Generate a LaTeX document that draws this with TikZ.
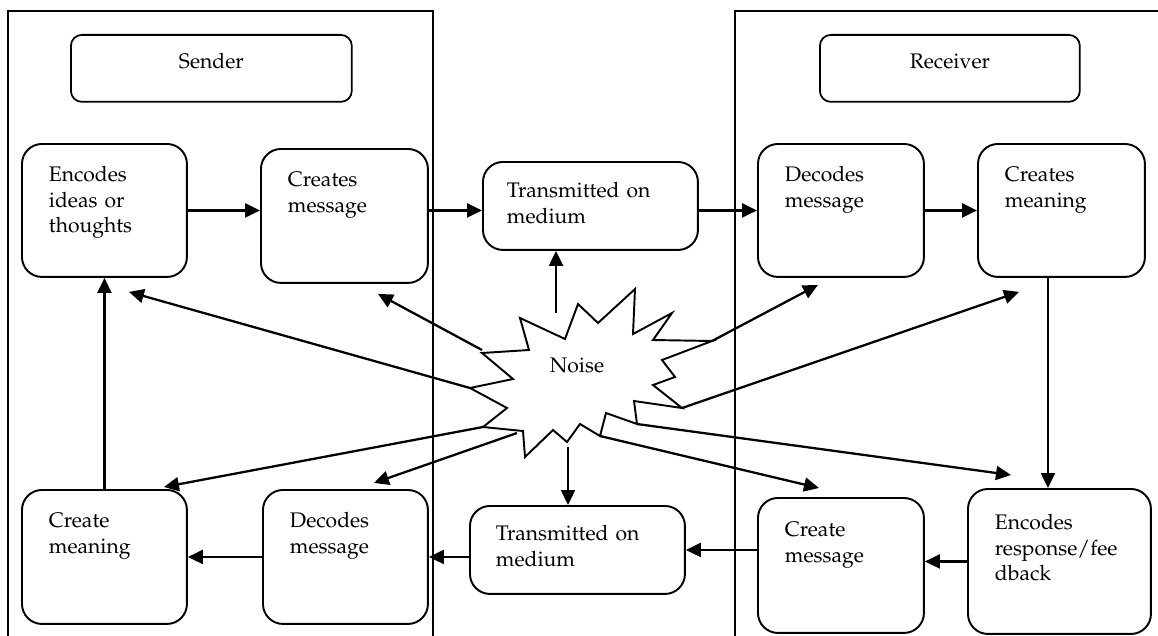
\documentclass[tikz,border=0pt]{standalone}
\usepackage[T1]{fontenc}
\usepackage{mathpazo}
\usepackage{tikz}
\usetikzlibrary{arrows.meta}

\newcommand{\diagfont}{\fontsize{12}{14.5}\selectfont}

\begin{document}
\begin{tikzpicture}[x=0.02cm, y=-0.02cm,
  head/.style={draw, line width=1pt, rounded corners=0.22cm, anchor=north west, align=center, inner sep=0pt, text height=0.68cm, text depth=0.66cm, font=\diagfont},
  stage/.style={draw, line width=1.1pt, rounded corners=0.4cm, anchor=north west, align=left, inner xsep=0.54cm, inner ysep=0pt, text height=0.76cm, font=\diagfont},
  flow/.style={-{Triangle[length=0.3cm, width=0.28cm]}, line width=1.3pt},
  panel/.style={line width=0.8pt}]

  \clip (0,0) rectangle (1158,635);

  % Sides
  \draw[panel] (8,11) rectangle (433,660);
  \draw[panel] (735,11) rectangle (1180,660);

  % Nodes
  \node[head, text width=5.62cm] (sender) at (70,34) {Sender};
  \node[head, text width=5.2cm] (receiver) at (819,34) {Receiver};

  \node[stage, text width=2.22cm, text depth=1.90cm] (enc) at (21,143) {Encodes\\ideas or\\thoughts};
  \node[stage, text width=2.26cm, text depth=1.92cm] (cre) at (260,148) {Creates\\message};
  \node[stage, inner xsep=0.48cm, text width=3.34cm, text height=0.72cm, text depth=1.04cm] (tra) at (482,161) {Transmitted on\\medium};
  \node[stage, text width=2.24cm, text depth=1.90cm] (dec) at (757,143) {Decodes\\message};
  \node[stage, text width=2.26cm, text depth=1.90cm] (mea) at (977,143) {Creates\\meaning};

  \node[stage, text width=2.22cm, text depth=1.92cm] (cmean) at (21,489) {Create\\meaning};
  \node[stage, text width=2.22cm, text depth=1.92cm] (dmsg) at (262,489) {Decodes\\message};
  \node[stage, inner xsep=0.52cm, text width=3.26cm, text height=0.70cm, text depth=1.06cm] (tra2) at (469,505) {Transmitted on\\medium};
  \node[stage, text width=2.24cm, text height=0.78cm, text depth=1.92cm] (cmsg) at (757,497) {Create\\message};
  \node[stage, text width=2.58cm, text height=0.82cm, text depth=2.08cm] (resp) at (967,488) {Encodes\\response/fee\\dback};

  % Noise burst
  \draw[line width=1.1pt] (520,318) -- (565,339) -- (578,304) -- (598,323) -- (635,289) -- (633,334)
    -- (672,313) -- (653,340) -- (712,341) coordinate (n-dec) -- (662,360) -- (675,377) -- (653,385)
    -- (682,408) coordinate (n-mea) -- (634,401) -- (637,424) coordinate (n-resp) -- (606,413)
    -- (600,436) coordinate (n-cmsg) -- (580,424) -- (567,442) -- (553,430) -- (525,457) -- (523,431)
    -- (483,427) coordinate (n-cmean) -- (507,408) -- (470,388) coordinate (n-enc) -- (513,379)
    -- (482,353) -- (529,350) -- cycle;
  \coordinate (n-cre) at (482,350);
  \coordinate (n-dmsg) at (517,433);
  \coordinate (n-up) at (556,313);
  \coordinate (n-down) at (568,447);
  \node[font=\diagfont, inner sep=0pt] (noise) at (577,365) {Noise};

  % Arrows
  \draw[flow] (enc.east) -- (enc.east -| cre.west);
  \draw[flow] (enc.east -| cre.east) -- (enc.east -| tra.west);
  \draw[flow] (enc.east -| tra.east) -- (enc.east -| dec.west);
  \draw[flow] (dec.east) -- (mea.west);
  \draw[flow] ([xshift=-0.27cm]mea.south) -- ([xshift=-0.27cm]mea.south |- resp.north);
  \draw[flow] (resp.west) -- (resp.west -| cmsg.east);
  \draw[flow] (tra2.east -| cmsg.west) -- (tra2.east);
  \draw[flow] (dmsg.east -| tra2.west) -- (dmsg.east);
  \draw[flow] (dmsg.west) -- (cmean.east);
  \draw[flow] (cmean.north) -- (enc.south);

  % Noise arrows
  \draw[flow] (n-enc) -- ([shift={(0.49cm,-0.28cm)}]enc.south);
  \draw[flow] (n-cre) -- ([shift={(0.67cm,-0.2cm)}]cre.south);
  \draw[flow] (n-up) -- (n-up |- tra.south);
  \draw[flow] (n-dec) -- ([shift={(-0.46cm,-0.14cm)}]dec.south);
  \draw[flow] (n-mea) -- ([shift={(-0.85cm,-0.28cm)}]mea.south);
  \draw[flow] (n-cmean) -- ([shift={(1.19cm,0.04cm)}]cmean.north);
  \draw[flow] (n-dmsg) -- ([shift={(0.57cm,0.12cm)}]dmsg.north);
  \draw[flow] (n-down) -- (n-down |- tra2.north);
  \draw[flow] (n-cmsg) -- ([shift={(-0.44cm,0.18cm)}]cmsg.north);
  \draw[flow] (n-resp) -- ([shift={(-0.97cm,0.26cm)}]resp.north);

\end{tikzpicture}
\end{document}
